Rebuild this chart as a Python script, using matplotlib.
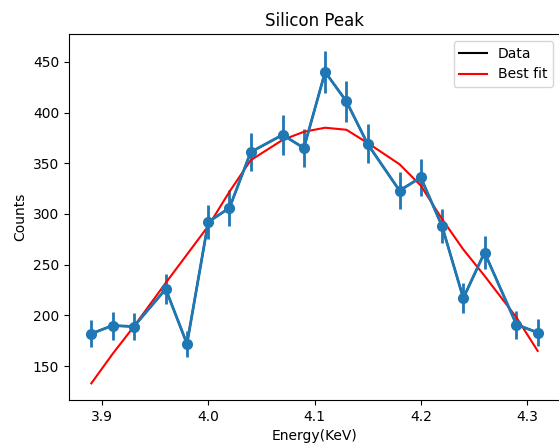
import matplotlib
matplotlib.use("Agg")
import matplotlib.pyplot as plt
from matplotlib.lines import Line2D

energy = [3.89, 3.91, 3.93, 3.96, 3.98, 4.00, 4.02, 4.04, 4.07, 4.09,
          4.11, 4.13, 4.15, 4.18, 4.20, 4.22, 4.24, 4.26, 4.29, 4.31]
counts = [182, 190, 189, 226, 172, 292, 306, 361, 378, 365,
          440, 411, 369, 323, 336, 288, 217, 262, 191, 183]
errors = [13.5, 13.8, 13.7, 15.0, 13.1, 17.1, 17.5, 19.0, 19.4, 19.1,
          21.0, 20.3, 19.2, 18.0, 18.3, 17.0, 14.7, 16.2, 13.8, 13.5]
best_fit = [133, 162, 189, 232, 260, 288, 322, 353, 373, 381,
            385, 383, 370, 349, 328, 295, 265, 239, 198, 165]

fig = plt.figure(figsize=(5.59, 4.45), dpi=100)
ax = fig.add_axes([69/559, 45/445, 491/559, 366/445])

ax.plot(energy, counts, color='k')
ax.errorbar(energy, counts, yerr=errors, fmt='o-', color='#1f77b4',
            linewidth=2, markersize=7)
ax.plot(energy, best_fit, color='red')

ax.set_title('Silicon Peak')
ax.set_xlabel('Energy(KeV)')
ax.set_ylabel('Counts')

handles = [Line2D([], [], color='k'), Line2D([], [], color='red')]
ax.legend(handles, ['Data', 'Best fit'], loc='upper right')

fig.savefig('out.png', dpi=100)
